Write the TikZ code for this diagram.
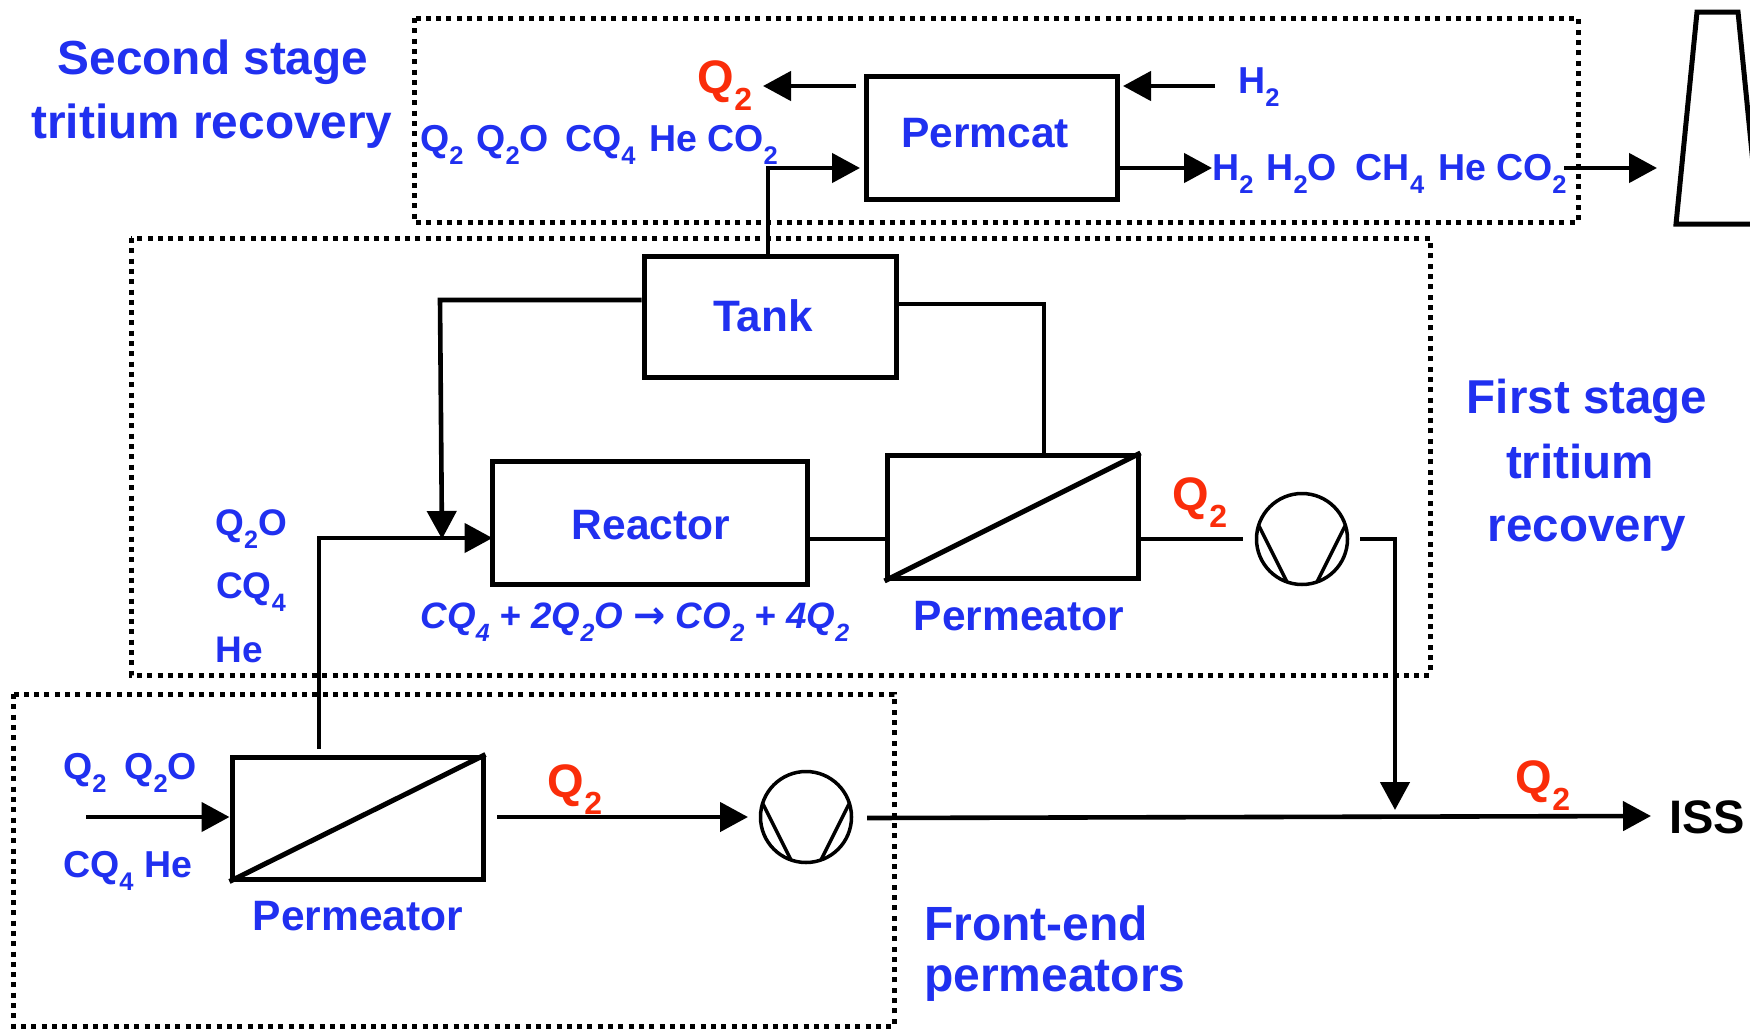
\documentclass[tikz,border=0pt]{standalone}
\usepackage{fontspec}
\setmainfont{Liberation Sans}
\newfontfamily\arrowfont{DejaVu Sans}
\usetikzlibrary{arrows.meta,calc}
\definecolor{lblue}{RGB}{32,48,240}
\definecolor{lred}{RGB}{250,45,10}
\newcommand{\lo}[1]{\raisebox{-.36em}{\scalebox{.68}{#1}}}
\newcommand{\fsz}[1]{\fontsize{#1}{#1}\selectfont}
\tikzset{
 blockbox/.style={draw=black,line width=5pt,inner sep=0pt},
 zone/.style={draw=black,line width=5pt,dash pattern=on 5pt off 5.3pt},
 flow/.style={line width=4.6pt,line join=miter},
 arr/.style={flow,-{Triangle[length=28pt,width=29pt]}},
 bl/.style={text=lblue,font=\bfseries\fsz{#1},inner sep=0pt,align=center},
 rd/.style={text=lred,font=\bfseries\fsz{47},inner sep=0pt},
 pumpc/.style={circle,draw=black,line width=3.5pt,minimum size=91pt,inner sep=0pt},
}
\begin{document}
\begin{tikzpicture}[x=1pt,y=-1pt]
\useasboundingbox (0,0) rectangle (1750,1028);
\fill[white] (0,0) rectangle (1750,1028);
% zones
\draw[zone] (414,18) rectangle (1578,222);
\draw[zone] (131,238) rectangle (1430,675);
\draw[zone] (13,694) rectangle (894,1026);
% stack
\draw[line width=5pt,line join=miter] (1759,224) -- (1676,224) -- (1697,12) -- (1738,12) -- (1759,224);
% blocks
\node[blockbox,minimum width=251pt,minimum height=123pt] (permcat) at (991.5,137.5) {};
\node[blockbox,minimum width=252pt,minimum height=121pt] (tank) at (770,316.5) {};
\node[blockbox,minimum width=315pt,minimum height=123pt] (reactor) at (649.5,522.5) {};
\node[blockbox,minimum width=251pt,minimum height=123pt] (perma) at (1012.5,517) {};
\node[blockbox,minimum width=251pt,minimum height=122pt] (permb) at (357.5,818) {};
\draw[line width=5pt] (perma.south west) -- (perma.north east);
\draw[line width=5pt] (permb.south west) -- (permb.north east);
% pumps
\node[pumpc] (pumpa) at (1302,539) {};
\node[pumpc] (pumpb) at (806,817) {};
\foreach \p in {pumpa,pumpb}{
 \draw[line width=3.5pt] ($(\p.center)+(-43,-13)$) -- ($(\p.center)+(-15,43)$);
 \draw[line width=3.5pt] ($(\p.center)+(43,-13)$) -- ($(\p.center)+(15,43)$);
}
% free ends
\coordinate (q2start) at (856,86);
\coordinate (q2end) at (763,86);
\coordinate (h2start) at (1215,86);
\coordinate (h2end) at (1123,86);
\coordinate (pcout) at (1212,168);
\coordinate (pcin) at (860,168);
\coordinate (riser) at (768,168);
\coordinate (exA) at (1564,168);
\coordinate (exB) at (1657,168);
\coordinate (tankturn) at (440,300);
\coordinate (merge) at (442,539);
\coordinate (tankR) at (1044,304);
\coordinate (pumpaIn) at (1243,539);
\coordinate (pumpaOut) at (1360,539);
\coordinate (elbow) at (1395,539);
\coordinate (downEnd) at (1395,810);
\coordinate (mainStart) at (867,818);
\coordinate (mainEnd) at (1651,816);
\coordinate (feed) at (86,817);
\coordinate (bOut) at (497,817);
\coordinate (bIn) at (748,817);
\coordinate (bUp) at (319,749);
\coordinate (bUpTop) at (319,538);
% connectors
\draw[arr] (q2start) -- (q2end);
\draw[arr] (h2start) -- (h2end);
\draw[arr] (permcat.east |- pcout) -- (pcout);
\draw[arr] (tank.north -| riser) -- (riser) -- (pcin);
\draw[arr] (exA) -- (exB);
\draw[arr] (tank.west |- tankturn) -- (tankturn) -- (merge);
\draw[flow] (tank.east |- tankR) -- (tankR) -- (tankR |- perma.north);
\draw[flow] (reactor.east |- merge) -- (perma.west |- merge);
\draw[flow] (perma.east |- pumpaIn) -- (pumpaIn);
\draw[arr] (pumpaOut) -- (elbow) -- (downEnd);
\draw[arr] (mainStart) -- (mainEnd);
\draw[arr] (feed) -- (permb.west |- feed);
\draw[arr] (bOut) -- (bIn);
\draw[arr] (bUp) -- (bUpTop) -- ([xshift=3pt]reactor.west |- bUpTop);
% labels
\node[bl=47.8] (t1) at (213,62) {Second stage};
\node[bl=47.8] (t2) at (212,126) {tritium recovery};
\node[bl=47.5] (t3) at (1587,401) {First stage};
\node[bl=47.5] (t4) at (1580,462) {tritium};
\node[bl=47.5] (t5) at (1587,534) {recovery};
\node[bl=48] (t6) [anchor=west] at (924,923) {Front-end};
\node[bl=48] (t7) [anchor=west] at (924,981) {permeators};
\node[bl=42.5] (l1) at (985,133) {Permcat};
\node[bl=44] (l2) at (763,316) {Tank};
\node[bl=42.5] (l3) at (651,525) {Reactor};
\node[bl=42.5] (l4) at (1019,616) {Permeator};
\node[bl=42.5] (l5) at (358,916) {Permeator};
\node[rd] (q1) at (725,86) {Q\lo{2}};
\node[rd] (q2) at (1200,503) {Q\lo{2}};
\node[rd] (q3) at (575,790) {Q\lo{2}};
\node[rd] (q4) at (1543,786) {Q\lo{2}};
\node[bl=37.5,anchor=west] (s1) at (420,145) {Q\lo{2}\kern13pt Q\lo{2}O\kern16pt CQ\lo{4}\kern14pt He\kern10pt CO\lo{2}};
\node[bl=37.5] (s2) at (1259,87) {H\lo{2}};
\node[bl=37.5,anchor=west] (s3) at (1212,174) {H\lo{2}\kern13pt H\lo{2}O\kern19pt CH\lo{4}\kern14pt He\kern10pt CO\lo{2}};
\node[bl=37] (s4) at (251,529) {Q\lo{2}O};
\node[bl=37] (s5) at (251,592) {CQ\lo{4}};
\node[bl=37] (s6) at (239,650) {He};
\node[bl=37.5,anchor=west] (s7) at (63,773) {Q\lo{2}\kern18pt Q\lo{2}O};
\node[bl=37.5,anchor=west] (s8) at (63,871) {CQ\lo{4} He};
\node[bl=36.7] (eq) at (635,622) {\itshape CQ\lo{4} + 2Q\lo{2}O {\arrowfont\bfseries\scalebox{1.05}{→}} CO\lo{2} + 4Q\lo{2}};
\node[text=black,font=\bfseries\fsz{47},inner sep=0pt] (iss) at (1707,817) {ISS};
\end{tikzpicture}
\end{document}
